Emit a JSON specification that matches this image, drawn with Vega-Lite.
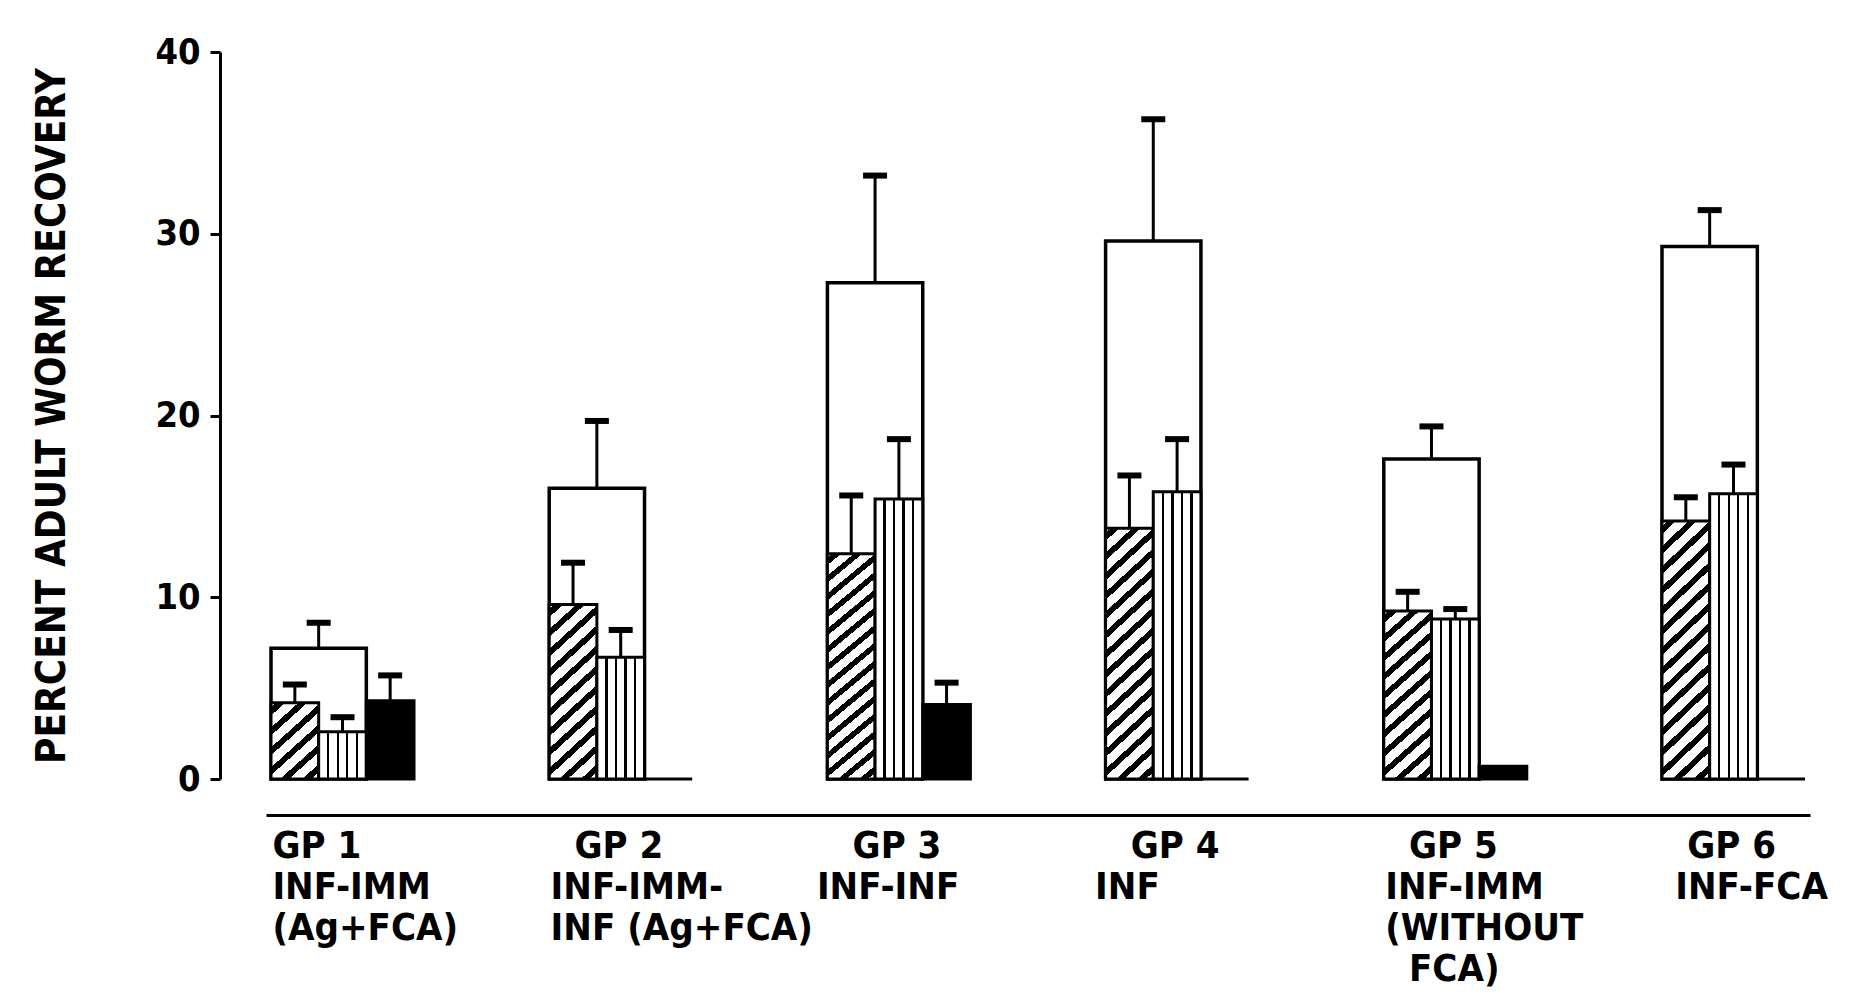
{
  "$schema": "https://vega.github.io/schema/vega-lite/v6.json",
  "width": 1544,
  "height": 727,
  "autosize": {"type": "none"},
  "padding": {"left": 266, "top": 52, "right": 41, "bottom": 215},
  "background": "white",
  "config": {
    "view": {"stroke": null},
    "font": "DejaVu Sans Condensed",
    "axis": {"grid": false, "domainColor": "#000", "tickColor": "#000", "labelColor": "#000", "titleColor": "#000"}
  },
  "data": {
    "values": [
      {"group": "GP 1", "series": "open", "value": 7.2, "upper": 8.6},
      {"group": "GP 1", "series": "hatched", "value": 4.2, "upper": 5.2},
      {"group": "GP 1", "series": "vertical", "value": 2.6, "upper": 3.4},
      {"group": "GP 1", "series": "black", "value": 4.3, "upper": 5.7},
      {"group": "GP 2", "series": "open", "value": 16.0, "upper": 19.7},
      {"group": "GP 2", "series": "hatched", "value": 9.6, "upper": 11.9},
      {"group": "GP 2", "series": "vertical", "value": 6.7, "upper": 8.2},
      {"group": "GP 2", "series": "black", "value": 0, "upper": null},
      {"group": "GP 3", "series": "open", "value": 27.3, "upper": 33.2},
      {"group": "GP 3", "series": "hatched", "value": 12.4, "upper": 15.6},
      {"group": "GP 3", "series": "vertical", "value": 15.4, "upper": 18.7},
      {"group": "GP 3", "series": "black", "value": 4.1, "upper": 5.3},
      {"group": "GP 4", "series": "open", "value": 29.6, "upper": 36.3},
      {"group": "GP 4", "series": "hatched", "value": 13.8, "upper": 16.7},
      {"group": "GP 4", "series": "vertical", "value": 15.8, "upper": 18.7},
      {"group": "GP 4", "series": "black", "value": 0, "upper": null},
      {"group": "GP 5", "series": "open", "value": 17.6, "upper": 19.4},
      {"group": "GP 5", "series": "hatched", "value": 9.25, "upper": 10.3},
      {"group": "GP 5", "series": "vertical", "value": 8.8, "upper": 9.35},
      {"group": "GP 5", "series": "black", "value": 0.7, "upper": null},
      {"group": "GP 6", "series": "open", "value": 29.3, "upper": 31.3},
      {"group": "GP 6", "series": "hatched", "value": 14.2, "upper": 15.5},
      {"group": "GP 6", "series": "vertical", "value": 15.7, "upper": 17.3},
      {"group": "GP 6", "series": "black", "value": 0, "upper": null}
    ]
  },
  "encoding": {
    "x": {
      "field": "group",
      "type": "nominal",
      "sort": null,
      "scale": {"paddingInner": 0.486, "paddingOuter": 0.018},
      "axis": {
        "title": null,
        "ticks": false,
        "tickSize": 0,
        "domainWidth": 3,
        "offset": 36,
        "labelAngle": 0,
        "labelAlign": "left",
        "labelBaseline": "top",
        "labelPadding": 12,
        "labelOffset": -82,
        "labelFont": "DejaVu Sans Condensed",
        "labelFontSize": 38,
        "labelFontWeight": "bold",
        "labelLineHeight": 41,
        "labelLimit": 0,
        "labelOverlap": false,
        "labelFlush": false,
        "labelBound": false,
        "labelExpr": "datum.value == 'GP 1' ? ['\u200b\u00a0GP 1', '\u200b\u00a0INF-IMM', '\u200b\u00a0(Ag+FCA)'] : datum.value == 'GP 2' ? ['\u200b\u00a0\u00a0\u00a0GP 2', '\u200b\u00a0INF-IMM-', '\u200b\u00a0INF (Ag+FCA)'] : datum.value == 'GP 3' ? ['\u200b\u00a0\u00a0\u00a0GP 3', 'INF-INF'] : datum.value == 'GP 4' ? ['\u200b\u00a0\u00a0\u00a0GP 4', 'INF'] : datum.value == 'GP 5' ? ['\u200b\u00a0\u00a0\u00a0GP 5', '\u200b\u00a0INF-IMM', '\u200b\u00a0(WITHOUT', '\u200b\u00a0\u00a0\u00a0FCA)'] : ['\u200b\u00a0\u00a0\u00a0GP 6', '\u200b\u00a0\u00a0INF-FCA']"
      }
    }
  },
  "layer": [
    {
      "transform": [{"filter": "datum.series == 'open'"}],
      "encoding": {
        "xOffset": {"field": "series", "type": "nominal", "scale": {"domain": ["open"], "paddingInner": 0, "paddingOuter": 0.25, "align": 0}}
      },
      "layer": [
        {
          "mark": {"type": "bar", "fill": "#fff", "stroke": "#000", "strokeWidth": 3.5},
          "encoding": {
            "y": {
              "field": "value",
              "type": "quantitative",
              "title": "PERCENT ADULT WORM RECOVERY",
              "scale": {"domain": [0, 40], "nice": false},
              "axis": {
                "values": [0, 10, 20, 30, 40],
                "offset": 46,
                "domainWidth": 3,
                "tickWidth": 3,
                "tickSize": 10,
                "labelPadding": 10,
                "labelFont": "DejaVu Sans Condensed",
                "labelFontSize": 36,
                "labelFontWeight": "bold",
                "titleFont": "DejaVu Sans Condensed",
                "titleFontSize": 40,
                "titleFontWeight": "bold",
                "titlePadding": 82
              }
            }
          }
        },
        {
          "transform": [{"filter": "isValid(datum.upper)"}],
          "mark": {"type": "rule", "stroke": "#000", "strokeWidth": 3},
          "encoding": {
            "y": {"field": "value", "type": "quantitative", "title": "PERCENT ADULT WORM RECOVERY"},
            "y2": {"field": "upper"}
          }
        },
        {
          "transform": [{"filter": "isValid(datum.upper)"}],
          "mark": {"type": "tick", "color": "#000", "size": 24, "thickness": 6, "opacity": 1},
          "encoding": {
            "y": {"field": "upper", "type": "quantitative", "title": "PERCENT ADULT WORM RECOVERY"}
          }
        }
      ]
    },
    {
      "transform": [{"filter": "datum.series != 'open'"}],
      "encoding": {
        "xOffset": {"field": "series", "type": "nominal", "scale": {"domain": ["hatched", "vertical", "black"], "paddingInner": 0, "paddingOuter": 0}}
      },
      "layer": [
        {
          "transform": [{"filter": "datum.series == 'hatched' && datum.group == 'GP 1'"}],
          "mark": {
            "type": "bar", "stroke": "#000", "strokeWidth": 3,
            "fill": {"gradient": "linear", "x1": 0, "y1": 0, "x2": 0.667, "y2": 1.187, "stops": [
              {"offset": 0, "color": "#fff"}, {"offset": 0.0417, "color": "#fff"}, {"offset": 0.0417, "color": "#000"}, {"offset": 0.1083, "color": "#000"}, {"offset": 0.1083, "color": "#fff"},
              {"offset": 0.2083, "color": "#fff"}, {"offset": 0.2083, "color": "#000"}, {"offset": 0.275, "color": "#000"}, {"offset": 0.275, "color": "#fff"},
              {"offset": 0.375, "color": "#fff"}, {"offset": 0.375, "color": "#000"}, {"offset": 0.4417, "color": "#000"}, {"offset": 0.4417, "color": "#fff"},
              {"offset": 0.5417, "color": "#fff"}, {"offset": 0.5417, "color": "#000"}, {"offset": 0.6083, "color": "#000"}, {"offset": 0.6083, "color": "#fff"},
              {"offset": 0.7083, "color": "#fff"}, {"offset": 0.7083, "color": "#000"}, {"offset": 0.775, "color": "#000"}, {"offset": 0.775, "color": "#fff"},
              {"offset": 0.875, "color": "#fff"}, {"offset": 0.875, "color": "#000"}, {"offset": 0.9417, "color": "#000"}, {"offset": 0.9417, "color": "#fff"},
              {"offset": 1, "color": "#fff"}
            ]}
          },
          "encoding": {"y": {"field": "value", "type": "quantitative", "title": "PERCENT ADULT WORM RECOVERY"}}
        },
        {
          "transform": [{"filter": "datum.series == 'hatched' && (datum.group == 'GP 2' || datum.group == 'GP 5')"}],
          "mark": {
            "type": "bar", "stroke": "#000", "strokeWidth": 3,
            "fill": {"gradient": "linear", "x1": 0, "y1": 0, "x2": 0.295, "y2": 1.177, "stops": [
              {"offset": 0, "color": "#fff"}, {"offset": 0.0227, "color": "#fff"}, {"offset": 0.0227, "color": "#000"}, {"offset": 0.0591, "color": "#000"}, {"offset": 0.0591, "color": "#fff"},
              {"offset": 0.1136, "color": "#fff"}, {"offset": 0.1136, "color": "#000"}, {"offset": 0.15, "color": "#000"}, {"offset": 0.15, "color": "#fff"},
              {"offset": 0.2045, "color": "#fff"}, {"offset": 0.2045, "color": "#000"}, {"offset": 0.2409, "color": "#000"}, {"offset": 0.2409, "color": "#fff"},
              {"offset": 0.2955, "color": "#fff"}, {"offset": 0.2955, "color": "#000"}, {"offset": 0.3318, "color": "#000"}, {"offset": 0.3318, "color": "#fff"},
              {"offset": 0.3864, "color": "#fff"}, {"offset": 0.3864, "color": "#000"}, {"offset": 0.4227, "color": "#000"}, {"offset": 0.4227, "color": "#fff"},
              {"offset": 0.4773, "color": "#fff"}, {"offset": 0.4773, "color": "#000"}, {"offset": 0.5136, "color": "#000"}, {"offset": 0.5136, "color": "#fff"},
              {"offset": 0.5682, "color": "#fff"}, {"offset": 0.5682, "color": "#000"}, {"offset": 0.6045, "color": "#000"}, {"offset": 0.6045, "color": "#fff"},
              {"offset": 0.6591, "color": "#fff"}, {"offset": 0.6591, "color": "#000"}, {"offset": 0.6955, "color": "#000"}, {"offset": 0.6955, "color": "#fff"},
              {"offset": 0.75, "color": "#fff"}, {"offset": 0.75, "color": "#000"}, {"offset": 0.7864, "color": "#000"}, {"offset": 0.7864, "color": "#fff"},
              {"offset": 0.8409, "color": "#fff"}, {"offset": 0.8409, "color": "#000"}, {"offset": 0.8773, "color": "#000"}, {"offset": 0.8773, "color": "#fff"},
              {"offset": 0.9318, "color": "#fff"}, {"offset": 0.9318, "color": "#000"}, {"offset": 0.9682, "color": "#000"}, {"offset": 0.9682, "color": "#fff"},
              {"offset": 1, "color": "#fff"}
            ]}
          },
          "encoding": {"y": {"field": "value", "type": "quantitative", "title": "PERCENT ADULT WORM RECOVERY"}}
        },
        {
          "transform": [{"filter": "datum.series == 'hatched' && (datum.group == 'GP 3' || datum.group == 'GP 4' || datum.group == 'GP 6')"}],
          "mark": {
            "type": "bar", "stroke": "#000", "strokeWidth": 3,
            "fill": {"gradient": "linear", "x1": 0, "y1": 0, "x2": 0.2, "y2": 1.14, "stops": [
              {"offset": 0, "color": "#fff"}, {"offset": 0.0167, "color": "#fff"}, {"offset": 0.0167, "color": "#000"}, {"offset": 0.0433, "color": "#000"}, {"offset": 0.0433, "color": "#fff"},
              {"offset": 0.0833, "color": "#fff"}, {"offset": 0.0833, "color": "#000"}, {"offset": 0.11, "color": "#000"}, {"offset": 0.11, "color": "#fff"},
              {"offset": 0.15, "color": "#fff"}, {"offset": 0.15, "color": "#000"}, {"offset": 0.1767, "color": "#000"}, {"offset": 0.1767, "color": "#fff"},
              {"offset": 0.2167, "color": "#fff"}, {"offset": 0.2167, "color": "#000"}, {"offset": 0.2433, "color": "#000"}, {"offset": 0.2433, "color": "#fff"},
              {"offset": 0.2833, "color": "#fff"}, {"offset": 0.2833, "color": "#000"}, {"offset": 0.31, "color": "#000"}, {"offset": 0.31, "color": "#fff"},
              {"offset": 0.35, "color": "#fff"}, {"offset": 0.35, "color": "#000"}, {"offset": 0.3767, "color": "#000"}, {"offset": 0.3767, "color": "#fff"},
              {"offset": 0.4167, "color": "#fff"}, {"offset": 0.4167, "color": "#000"}, {"offset": 0.4433, "color": "#000"}, {"offset": 0.4433, "color": "#fff"},
              {"offset": 0.4833, "color": "#fff"}, {"offset": 0.4833, "color": "#000"}, {"offset": 0.51, "color": "#000"}, {"offset": 0.51, "color": "#fff"},
              {"offset": 0.55, "color": "#fff"}, {"offset": 0.55, "color": "#000"}, {"offset": 0.5767, "color": "#000"}, {"offset": 0.5767, "color": "#fff"},
              {"offset": 0.6167, "color": "#fff"}, {"offset": 0.6167, "color": "#000"}, {"offset": 0.6433, "color": "#000"}, {"offset": 0.6433, "color": "#fff"},
              {"offset": 0.6833, "color": "#fff"}, {"offset": 0.6833, "color": "#000"}, {"offset": 0.71, "color": "#000"}, {"offset": 0.71, "color": "#fff"},
              {"offset": 0.75, "color": "#fff"}, {"offset": 0.75, "color": "#000"}, {"offset": 0.7767, "color": "#000"}, {"offset": 0.7767, "color": "#fff"},
              {"offset": 0.8167, "color": "#fff"}, {"offset": 0.8167, "color": "#000"}, {"offset": 0.8433, "color": "#000"}, {"offset": 0.8433, "color": "#fff"},
              {"offset": 0.8833, "color": "#fff"}, {"offset": 0.8833, "color": "#000"}, {"offset": 0.91, "color": "#000"}, {"offset": 0.91, "color": "#fff"},
              {"offset": 0.95, "color": "#fff"}, {"offset": 0.95, "color": "#000"}, {"offset": 0.9767, "color": "#000"}, {"offset": 0.9767, "color": "#fff"},
              {"offset": 1, "color": "#fff"}
            ]}
          },
          "encoding": {"y": {"field": "value", "type": "quantitative", "title": "PERCENT ADULT WORM RECOVERY"}}
        },
        {
          "transform": [{"filter": "datum.series == 'vertical'"}],
          "mark": {
            "type": "bar", "stroke": "#000", "strokeWidth": 3,
            "fill": {"gradient": "linear", "x1": 0, "y1": 0, "x2": 1, "y2": 0, "stops": [
              {"offset": 0, "color": "#fff"}, {"offset": 0.175, "color": "#fff"}, {"offset": 0.175, "color": "#000"}, {"offset": 0.225, "color": "#000"}, {"offset": 0.225, "color": "#fff"},
              {"offset": 0.375, "color": "#fff"}, {"offset": 0.375, "color": "#000"}, {"offset": 0.425, "color": "#000"}, {"offset": 0.425, "color": "#fff"},
              {"offset": 0.575, "color": "#fff"}, {"offset": 0.575, "color": "#000"}, {"offset": 0.625, "color": "#000"}, {"offset": 0.625, "color": "#fff"},
              {"offset": 0.775, "color": "#fff"}, {"offset": 0.775, "color": "#000"}, {"offset": 0.825, "color": "#000"}, {"offset": 0.825, "color": "#fff"},
              {"offset": 1, "color": "#fff"}
            ]}
          },
          "encoding": {"y": {"field": "value", "type": "quantitative", "title": "PERCENT ADULT WORM RECOVERY"}}
        },
        {
          "transform": [{"filter": "datum.series == 'black'"}],
          "mark": {"type": "bar", "fill": "#000", "stroke": "#000", "strokeWidth": 3},
          "encoding": {"y": {"field": "value", "type": "quantitative", "title": "PERCENT ADULT WORM RECOVERY"}}
        },
        {
          "transform": [{"filter": "isValid(datum.upper)"}],
          "mark": {"type": "rule", "stroke": "#000", "strokeWidth": 3},
          "encoding": {
            "y": {"field": "value", "type": "quantitative", "title": "PERCENT ADULT WORM RECOVERY"},
            "y2": {"field": "upper"}
          }
        },
        {
          "transform": [{"filter": "isValid(datum.upper)"}],
          "mark": {"type": "tick", "color": "#000", "size": 24, "thickness": 6, "opacity": 1},
          "encoding": {
            "y": {"field": "upper", "type": "quantitative", "title": "PERCENT ADULT WORM RECOVERY"}
          }
        }
      ]
    }
  ],
  "resolve": {"scale": {"xOffset": "independent"}}
}
